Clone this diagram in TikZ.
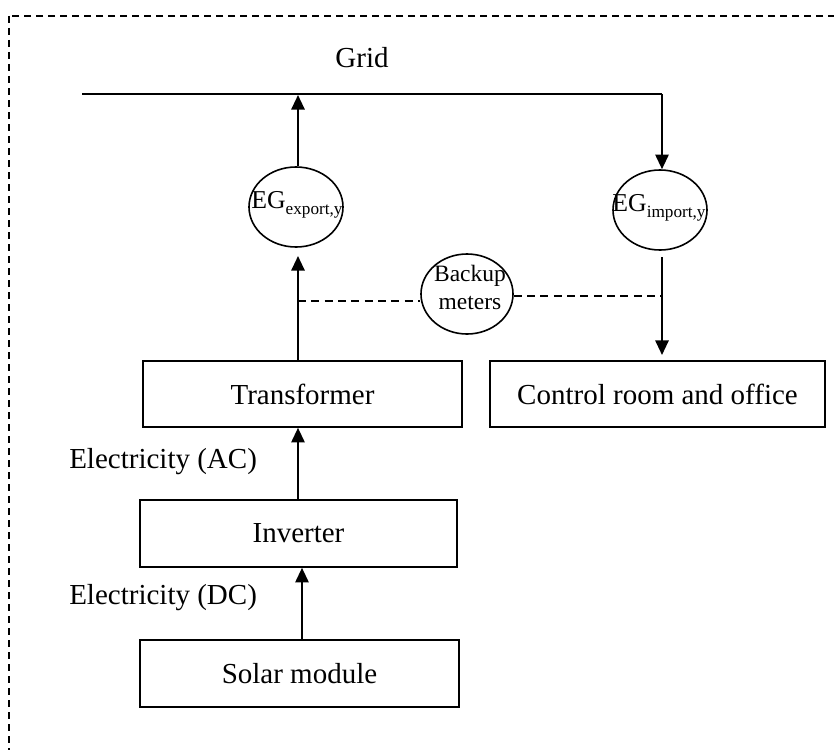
\documentclass[tikz,border=0pt]{standalone}
\usepackage{fontspec}
\setmainfont{Liberation Serif}
\usetikzlibrary{arrows.meta,shapes.geometric}
\tikzset{
  box/.style={draw, line width=1.2pt, rectangle, inner sep=0pt},
  meter/.style={draw, line width=1.2pt, ellipse, inner sep=0pt},
  lbl/.style={inner sep=0pt, font=\fontsize{21.75}{26}\selectfont},
  flow/.style={line width=1.5pt, -{Triangle[length=11pt,width=10pt]}},
  plain/.style={line width=1.5pt},
  dline/.style={line width=1pt, dash pattern=on 6pt off 4pt},
}
\newcommand{\egtext}[1]{{\fontsize{19.3}{22}\selectfont EG\raisebox{-0.25em}{\fontsize{12.9}{14}\selectfont #1}}}
\begin{document}
\begin{tikzpicture}[x=0.75pt,y=-0.75pt]
\useasboundingbox (0,0) rectangle (834,749);
\clip (0,0) rectangle (834,749);
% outer dashed frame
\draw[line width=1pt, dash pattern=on 5pt off 4pt] (9,16) rectangle (850,770);
% boxes
\node[box, minimum width=319*0.75pt, minimum height=66*0.75pt] (trans) at (302.5,394) {};
\node[lbl] at (trans) {Transformer};
\node[box, minimum width=335*0.75pt, minimum height=66*0.75pt] (ctrl) at (657.5,394) {};
\node[lbl] at (ctrl) {Control room and office};
\node[box, minimum width=317*0.75pt, minimum height=67*0.75pt] (inv) at (298.5,533.5) {};
\node[lbl] at (inv) {Inverter};
\node[box, minimum width=319*0.75pt, minimum height=67*0.75pt] (solar) at (299.5,673.5) {};
\node[lbl] at (solar) {Solar module};
% meters
\node[meter, minimum width=94*0.75pt, minimum height=80*0.75pt] (exp) at (296,207) {};
\node[inner sep=0pt] at (297,205) {\egtext{export,y}};
\node[meter, minimum width=94*0.75pt, minimum height=80*0.75pt] (imp) at (660,210) {};
\node[inner sep=0pt] at (659,208) {\egtext{import,y}};
\node[meter, minimum width=92*0.75pt, minimum height=80*0.75pt] (bak) at (467,294) {};
\node[inner sep=0pt, align=center, font=\fontsize{17.6}{21}\selectfont] at (470,287) {Backup\\meters};
% labels
\node[lbl] (gridlbl) at (362,58) {Grid};
\node[lbl, anchor=west] (aclbl) at (69,462) {Electricity (AC)};
\node[lbl, anchor=west] (dclbl) at (69,598) {Electricity (DC)};
% grid line
\coordinate (gridL) at (82,94);
\coordinate (gridR) at (662,94);
\coordinate (gridX) at (298,95);
\draw[plain] (gridL) -- (gridR);
\draw[flow] (gridR) -- (gridR |- imp.north);
\draw[flow] (exp.north -| gridX) -- (gridX);
% flows
\coordinate (solX) at (302,0);
\coordinate (invX) at (298,0);
\draw[flow] (solar.north -| solX) -- (inv.south -| solX);
\draw[flow] (inv.north -| invX) -- (trans.south -| invX);
\coordinate (expIn) at (298,256);
\draw[flow] (trans.north -| expIn) -- (expIn);
\coordinate (impOut) at (662,257);
\coordinate (impEnd) at (662,355);
\draw[flow] (impOut) -- (impEnd);
% backup meter dashed links
\coordinate (dL) at (298,301);
\coordinate (dR) at (662,296);
\draw[dline] (dL) -- (bak.west |- dL);
\draw[dline] (bak.east |- dR) -- (dR);
\end{tikzpicture}
\end{document}
